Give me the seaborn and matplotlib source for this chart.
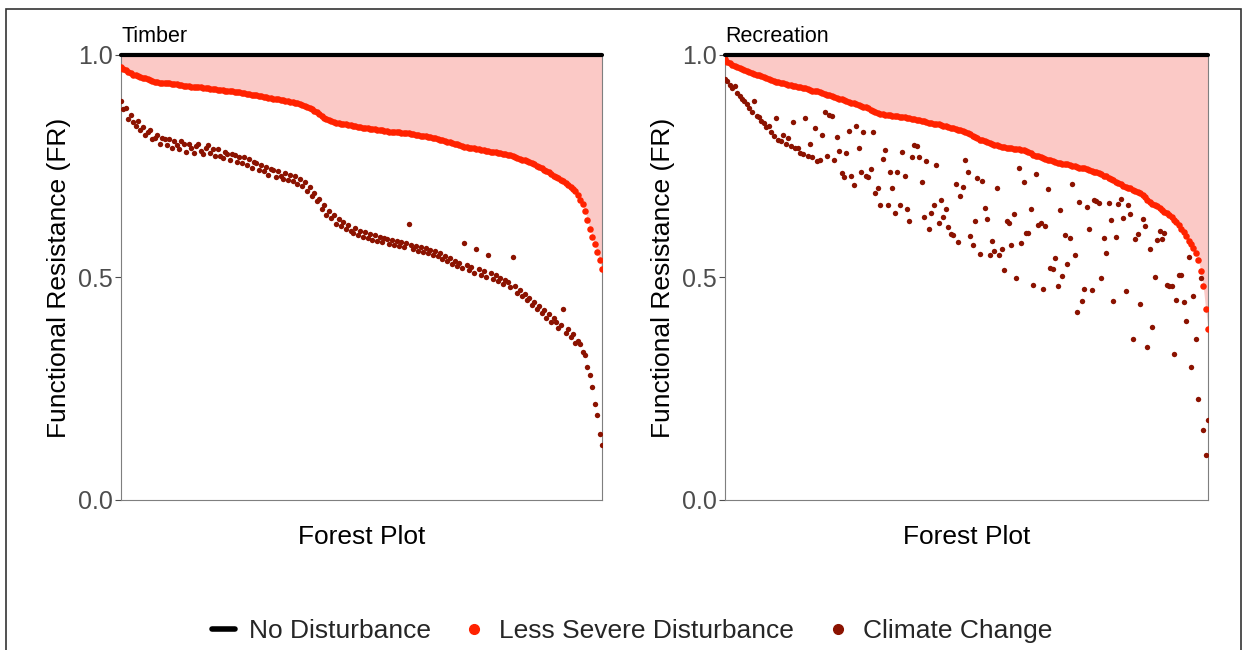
import matplotlib
matplotlib.use("Agg")
import matplotlib.pyplot as plt
from matplotlib.lines import Line2D
from matplotlib.patches import Rectangle
import pandas as pd
import seaborn as sns

# Functional resistance per forest plot (plots ranked by the less severe disturbance)
timber_less_severe = [
    0.973, 0.969, 0.966, 0.962, 0.959, 0.956, 0.954, 0.952, 0.950, 0.949,
    0.948, 0.946, 0.944, 0.942, 0.940, 0.939, 0.938, 0.937, 0.937, 0.936,
    0.936, 0.935, 0.934, 0.934, 0.933, 0.932, 0.931, 0.930, 0.930, 0.929,
    0.929, 0.928, 0.927, 0.927, 0.926, 0.925, 0.925, 0.924, 0.923, 0.923,
    0.922, 0.921, 0.921, 0.920, 0.919, 0.919, 0.918, 0.917, 0.917, 0.916,
    0.915, 0.914, 0.913, 0.912, 0.911, 0.910, 0.909, 0.908, 0.907, 0.906,
    0.905, 0.904, 0.903, 0.902, 0.901, 0.900, 0.899, 0.898, 0.897, 0.896,
    0.895, 0.894, 0.893, 0.891, 0.889, 0.887, 0.885, 0.883, 0.881, 0.878,
    0.875, 0.871, 0.867, 0.863, 0.859, 0.856, 0.853, 0.851, 0.849, 0.848,
    0.847, 0.846, 0.845, 0.844, 0.843, 0.842, 0.841, 0.840, 0.839, 0.838,
    0.837, 0.836, 0.835, 0.834, 0.834, 0.833, 0.832, 0.831, 0.831, 0.830,
    0.829, 0.828, 0.828, 0.827, 0.826, 0.826, 0.825, 0.825, 0.824, 0.824,
    0.823, 0.822, 0.821, 0.820, 0.819, 0.818, 0.817, 0.816, 0.815, 0.814,
    0.813, 0.812, 0.810, 0.808, 0.807, 0.805, 0.804, 0.802, 0.800, 0.799,
    0.797, 0.796, 0.794, 0.793, 0.792, 0.791, 0.790, 0.789, 0.788, 0.787,
    0.786, 0.785, 0.784, 0.783, 0.782, 0.781, 0.780, 0.779, 0.778, 0.777,
    0.776, 0.775, 0.773, 0.771, 0.769, 0.767, 0.765, 0.763, 0.761, 0.759,
    0.757, 0.754, 0.751, 0.748, 0.745, 0.742, 0.739, 0.736, 0.733, 0.729,
    0.726, 0.723, 0.720, 0.716, 0.712, 0.708, 0.704, 0.699, 0.694, 0.685,
    0.675, 0.665, 0.650, 0.630, 0.610, 0.592, 0.575, 0.558, 0.540, 0.520,
]
timber_climate = [
    0.897, 0.878, 0.880, 0.857, 0.866, 0.849, 0.840, 0.851, 0.832, 0.838,
    0.820, 0.828, 0.832, 0.812, 0.814, 0.820, 0.799, 0.813, 0.811, 0.797,
    0.811, 0.790, 0.806, 0.797, 0.788, 0.806, 0.801, 0.783, 0.799, 0.790,
    0.780, 0.795, 0.799, 0.785, 0.777, 0.792, 0.797, 0.779, 0.788, 0.772,
    0.789, 0.774, 0.769, 0.783, 0.778, 0.763, 0.777, 0.775, 0.759, 0.771,
    0.757, 0.770, 0.752, 0.766, 0.745, 0.759, 0.758, 0.741, 0.753, 0.739,
    0.749, 0.731, 0.744, 0.742, 0.726, 0.740, 0.728, 0.722, 0.735, 0.719,
    0.731, 0.716, 0.728, 0.711, 0.722, 0.706, 0.715, 0.694, 0.703, 0.684,
    0.690, 0.671, 0.676, 0.655, 0.662, 0.641, 0.650, 0.633, 0.640, 0.621,
    0.631, 0.615, 0.624, 0.609, 0.618, 0.604, 0.600, 0.611, 0.596, 0.605,
    0.592, 0.603, 0.588, 0.597, 0.584, 0.595, 0.582, 0.591, 0.580, 0.589,
    0.586, 0.576, 0.585, 0.573, 0.581, 0.570, 0.579, 0.568, 0.577, 0.620,
    0.574, 0.563, 0.571, 0.560, 0.569, 0.558, 0.566, 0.555, 0.562, 0.551,
    0.559, 0.548, 0.555, 0.541, 0.549, 0.536, 0.543, 0.531, 0.537, 0.525,
    0.533, 0.521, 0.578, 0.527, 0.516, 0.524, 0.511, 0.563, 0.518, 0.505,
    0.514, 0.502, 0.551, 0.509, 0.496, 0.505, 0.492, 0.499, 0.486, 0.494,
    0.490, 0.478, 0.546, 0.480, 0.465, 0.472, 0.458, 0.464, 0.449, 0.455,
    0.439, 0.446, 0.430, 0.436, 0.420, 0.428, 0.410, 0.418, 0.401, 0.408,
    0.401, 0.387, 0.394, 0.430, 0.375, 0.384, 0.366, 0.372, 0.352, 0.358,
    0.350, 0.333, 0.325, 0.298, 0.280, 0.255, 0.215, 0.190, 0.148, 0.124,
]
recreation_less_severe = [
    0.990, 0.985, 0.981, 0.978, 0.975, 0.972, 0.970, 0.968, 0.966, 0.964,
    0.962, 0.960, 0.958, 0.956, 0.954, 0.952, 0.950, 0.948, 0.946, 0.944,
    0.942, 0.940, 0.939, 0.937, 0.936, 0.934, 0.933, 0.932, 0.931, 0.930,
    0.929, 0.928, 0.926, 0.925, 0.923, 0.922, 0.920, 0.919, 0.918, 0.917,
    0.915, 0.913, 0.911, 0.909, 0.907, 0.906, 0.904, 0.902, 0.900, 0.899,
    0.897, 0.895, 0.893, 0.891, 0.890, 0.888, 0.886, 0.884, 0.882, 0.880,
    0.877, 0.874, 0.871, 0.869, 0.868, 0.867, 0.866, 0.866, 0.865, 0.864,
    0.863, 0.862, 0.861, 0.860, 0.860, 0.859, 0.858, 0.857, 0.856, 0.855,
    0.854, 0.852, 0.851, 0.850, 0.848, 0.847, 0.846, 0.845, 0.844, 0.842,
    0.841, 0.840, 0.838, 0.837, 0.835, 0.834, 0.832, 0.831, 0.829, 0.827,
    0.824, 0.822, 0.819, 0.816, 0.813, 0.810, 0.808, 0.806, 0.804, 0.802,
    0.800, 0.798, 0.797, 0.795, 0.794, 0.793, 0.792, 0.791, 0.790, 0.789,
    0.789, 0.788, 0.787, 0.786, 0.784, 0.782, 0.779, 0.776, 0.774, 0.772,
    0.771, 0.769, 0.767, 0.765, 0.763, 0.761, 0.760, 0.758, 0.757, 0.756,
    0.755, 0.754, 0.752, 0.751, 0.750, 0.749, 0.747, 0.746, 0.745, 0.743,
    0.742, 0.740, 0.738, 0.736, 0.734, 0.732, 0.729, 0.727, 0.724, 0.721,
    0.718, 0.715, 0.712, 0.709, 0.706, 0.704, 0.702, 0.700, 0.697, 0.695,
    0.693, 0.690, 0.685, 0.680, 0.675, 0.670, 0.666, 0.663, 0.660, 0.656,
    0.652, 0.648, 0.644, 0.640, 0.635, 0.630, 0.625, 0.618, 0.610, 0.602,
    0.593, 0.583, 0.575, 0.566, 0.555, 0.540, 0.515, 0.480, 0.430, 0.385,
]
recreation_climate = [
    0.946, 0.941, 0.933, 0.926, 0.930, 0.914, 0.908, 0.900, 0.896, 0.889,
    0.881, 0.872, 0.896, 0.864, 0.861, 0.851, 0.848, 0.839, 0.840, 0.826,
    0.818, 0.859, 0.810, 0.806, 0.820, 0.801, 0.814, 0.796, 0.850, 0.792,
    0.790, 0.780, 0.778, 0.858, 0.772, 0.801, 0.771, 0.835, 0.762, 0.763,
    0.820, 0.872, 0.774, 0.865, 0.862, 0.764, 0.816, 0.784, 0.735, 0.725,
    0.780, 0.830, 0.729, 0.707, 0.840, 0.791, 0.738, 0.827, 0.729, 0.725,
    0.743, 0.828, 0.689, 0.701, 0.664, 0.766, 0.787, 0.664, 0.738, 0.701,
    0.645, 0.737, 0.662, 0.781, 0.729, 0.654, 0.628, 0.770, 0.798, 0.795,
    0.770, 0.715, 0.637, 0.762, 0.608, 0.645, 0.663, 0.752, 0.622, 0.675,
    0.635, 0.654, 0.613, 0.597, 0.595, 0.711, 0.579, 0.682, 0.704, 0.765,
    0.737, 0.593, 0.574, 0.626, 0.724, 0.553, 0.717, 0.657, 0.631, 0.551,
    0.581, 0.559, 0.702, 0.551, 0.565, 0.516, 0.627, 0.623, 0.573, 0.643,
    0.498, 0.746, 0.577, 0.714, 0.601, 0.599, 0.653, 0.484, 0.732, 0.619,
    0.622, 0.474, 0.615, 0.698, 0.521, 0.518, 0.543, 0.481, 0.651, 0.503,
    0.596, 0.530, 0.589, 0.710, 0.551, 0.423, 0.669, 0.448, 0.475, 0.659,
    0.608, 0.472, 0.674, 0.671, 0.668, 0.498, 0.588, 0.556, 0.668, 0.630,
    0.447, 0.590, 0.665, 0.677, 0.634, 0.470, 0.664, 0.643, 0.361, 0.586,
    0.598, 0.441, 0.632, 0.615, 0.343, 0.565, 0.389, 0.500, 0.585, 0.605,
    0.586, 0.599, 0.482, 0.481, 0.480, 0.328, 0.449, 0.506, 0.505, 0.446,
    0.402, 0.545, 0.298, 0.458, 0.362, 0.228, 0.498, 0.158, 0.101, 0.180,
]

panels = ["Timber", "Recreation"]
series_labels = ["No Disturbance", "Less Severe Disturbance", "Climate Change"]
colors = {"No Disturbance": "black", "Less Severe Disturbance": "#FF2200",
          "Climate Change": "#8B1200"}
fill_color = "#FBC9C6"

rows = []
for panel, less, clim in [("Timber", timber_less_severe, timber_climate),
                          ("Recreation", recreation_less_severe, recreation_climate)]:
    for i, (a, b) in enumerate(zip(less, clim), start=1):
        rows.append({"panel": panel, "plot": i, "series": "Less Severe Disturbance", "FR": a})
        rows.append({"panel": panel, "plot": i, "series": "Climate Change", "FR": b})
df = pd.DataFrame(rows)

sns.set_theme(style="white")
plt.rcParams["font.family"] = ["Liberation Sans", "DejaVu Sans"]

fig = plt.figure(figsize=(12.44, 6.5), dpi=100)
ax_boxes = [[0.0973, 0.2308, 0.3866, 0.6846], [0.5828, 0.2308, 0.3883, 0.6846]]

for panel, box in zip(panels, ax_boxes):
    ax = fig.add_axes(box)
    d = df[df.panel == panel]
    less = d[d.series == "Less Severe Disturbance"]
    ax.fill_between(less["plot"], less["FR"], 1.0, color=fill_color, lw=0, zorder=1)
    sns.scatterplot(data=d[d.series == "Climate Change"], x="plot", y="FR",
                    color=colors["Climate Change"], s=15, linewidth=0, ax=ax, zorder=3)
    sns.scatterplot(data=less, x="plot", y="FR",
                    color=colors["Less Severe Disturbance"], s=22, linewidth=0, ax=ax, zorder=4)
    ax.axhline(1.0, color="black", lw=3, clip_on=False, zorder=5)

    ax.set_xlim(less["plot"].min(), less["plot"].max())
    ax.set_ylim(0, 1)
    ax.set_xticks([])
    ax.set_yticks([0, 0.5, 1.0])
    ax.set_yticklabels(["0.0", "0.5", "1.0"])
    ax.tick_params(axis="y", colors="#4D4D4D", labelsize=18, length=4, width=0.8,
                   left=True, pad=2)
    for side in ["left", "bottom", "right"]:
        ax.spines[side].set_color("#7F7F7F")
        ax.spines[side].set_linewidth(0.8)
    ax.spines["top"].set_visible(False)
    ax.set_xlabel("Forest Plot", fontsize=19, labelpad=18, color="black")
    ax.set_ylabel("Functional Resistance (FR)", fontsize=19, labelpad=5, color="black")
    ax.set_title(panel, loc="left", fontsize=15.5, pad=9, color="black")

handles = [
    Line2D([], [], color="black", lw=4),
    Line2D([], [], color=colors["Less Severe Disturbance"], marker="o", ls="", markersize=7),
    Line2D([], [], color=colors["Climate Change"], marker="o", ls="", markersize=7),
]
fig.legend(handles, series_labels, loc="center", bbox_to_anchor=(0.508, 0.029), ncol=3,
           frameon=False, fontsize=19, handlelength=0.9, handletextpad=0.5,
           columnspacing=1.2)

fig.patches.append(Rectangle((0.005, -0.02), 0.9925, 1.006, transform=fig.transFigure,
                             fill=False, edgecolor="#333333", lw=1.2))

fig.savefig("out.png", dpi=100)
